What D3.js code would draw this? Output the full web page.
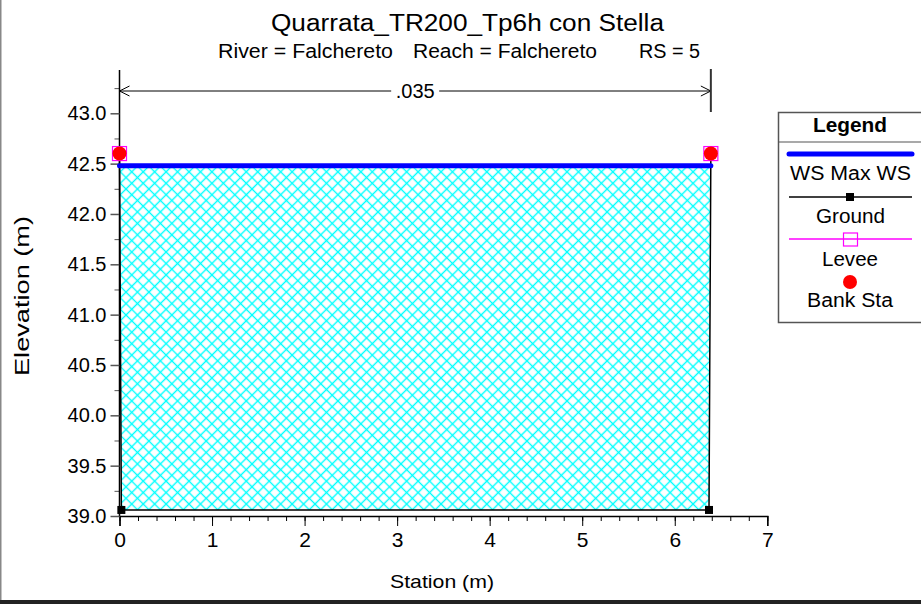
<!DOCTYPE html>
<html>
<head>
<meta charset="utf-8">
<script src="https://cdn.jsdelivr.net/npm/d3@7"></script>
<style>
  html, body { margin: 0; padding: 0; background: #fff; }
  svg { display: block; }
  text { font-family: "Liberation Sans", Arial, Helvetica, sans-serif; fill: #000; }
</style>
</head>
<body>
<script>
// ---------- DATA ----------
const titleText = "Quarrata_TR200_Tp6h con Stella";
const subtitleParts = ["River = Falchereto", "Reach = Falchereto", "RS = 5"];
const xLabel = "Station (m)";
const yLabel = "Elevation (m)";

const groundStation = [0, 0.02, 6.37, 6.39];
const groundElev    = [42.60, 39.06, 39.06, 42.60];

const leveeStation = [0, 6.39];
const leveeElev    = [42.60, 42.60];

const bankStation = [0, 6.39];
const bankElev    = [42.60, 42.60];

const wsMaxElev = 42.48;

const manningStations = [0, 6.39];
const manningValues   = [".035"];

const xTicks = [0, 1, 2, 3, 4, 5, 6, 7];
const yTicks = [39.0, 39.5, 40.0, 40.5, 41.0, 41.5, 42.0, 42.5, 43.0];

const legendItems = ["WS Max WS", "Ground", "Levee", "Bank Sta"];

// ---------- LAYOUT ----------
const W = 921, H = 604;
const svg = d3.select("body").append("svg").attr("width", W).attr("height", H);

const x = d3.scaleLinear().domain([0, 7]).range([119.5, 767.3]);
const y = d3.scaleLinear().domain([39, 43.43]).range([516, 70]);

// hatch pattern
const defs = svg.append("defs");
const pat = defs.append("pattern")
  .attr("id", "hatch").attr("patternUnits", "userSpaceOnUse")
  .attr("width", 8.1).attr("height", 8.1)
  .attr("patternTransform", "rotate(45)");
pat.append("path").attr("d", "M4.05,0 V8.1 M0,4.05 H8.1")
  .attr("stroke", "#00ffff").attr("stroke-width", 1.4).attr("fill", "none");

function txt(parent, px, py, s, o = {}) {
  const t = parent.append("text").attr("x", px).attr("y", py)
    .attr("font-size", o.size || 18)
    .attr("text-anchor", o.anchor || "middle")
    .attr("font-weight", o.weight || "normal")
    .text(s);
  if (o.len) t.attr("textLength", o.len).attr("lengthAdjust", "spacingAndGlyphs");
  return t;
}

// border
svg.append("line").attr("x1", 0.75).attr("x2", 0.75).attr("y1", 0).attr("y2", H)
  .attr("stroke", "#888").attr("stroke-width", 1.5);
svg.append("rect").attr("x", 0).attr("y", 600).attr("width", W).attr("height", 4).attr("fill", "#222");

// titles
txt(svg, 271, 31, titleText, { size: 23, anchor: "start", len: 393 });
txt(svg, 218, 58, subtitleParts[0], { size: 20, anchor: "start", len: 175 });
txt(svg, 413, 58, subtitleParts[1], { size: 20, anchor: "start", len: 184 });
txt(svg, 639, 58, subtitleParts[2], { size: 20, anchor: "start", len: 61 });

// ---------- water fill ----------
const pts = groundStation.map((s, i) => [s, groundElev[i]]);
function crossAt(a, b, e) {
  const t = (e - a[1]) / (b[1] - a[1]);
  return [a[0] + t * (b[0] - a[0]), e];
}
const leftX = crossAt(pts[0], pts[1], wsMaxElev);
const rightX = crossAt(pts[pts.length - 2], pts[pts.length - 1], wsMaxElev);
const waterPoly = [leftX, ...pts.slice(1, pts.length - 1), rightX];
svg.append("path")
  .attr("d", d3.line().x(d => x(d[0])).y(d => y(d[1]))(waterPoly) + "Z")
  .attr("fill", "url(#hatch)").attr("stroke", "none");

// ---------- axes ----------
const gx = svg.append("g").attr("transform", `translate(0,${y(39)})`);
gx.call(d3.axisBottom(x).tickValues(d3.range(0, 7.001, 0.2)).tickSize(5).tickFormat(""));
gx.call(g => g.selectAll(".tick line").attr("stroke", "#000"));
gx.call(g => g.select(".domain").remove());
const gx2 = svg.append("g").attr("transform", `translate(0,${y(39)})`);
gx2.call(d3.axisBottom(x).tickValues(xTicks).tickSize(10).tickPadding(6).tickFormat(d3.format("d")));
gx2.call(g => g.select(".domain").attr("stroke", "#000").attr("stroke-width", 1.5));
gx2.selectAll(".tick text").attr("font-size", 21).attr("font-family", "Liberation Sans, Arial, sans-serif").attr("fill", "#000");
gx2.selectAll(".tick line").attr("stroke", "#000");

const gy = svg.append("g").attr("transform", `translate(${x(0)},0)`);
gy.call(d3.axisLeft(y).tickValues(d3.range(39.25, 43.3, 0.5)).tickSize(5).tickFormat(""));
gy.call(g => g.select(".domain").remove());
gy.selectAll(".tick line").attr("stroke", "#555");
const gy2 = svg.append("g").attr("transform", `translate(${x(0)},0)`);
gy2.call(d3.axisLeft(y).tickValues(yTicks).tickSize(9).tickPadding(4).tickFormat(d3.format(".1f")));
gy2.call(g => g.select(".domain").attr("d", `M0,${y(39)}V${y(43.43)}`).attr("stroke", "#000").attr("stroke-width", 1.5));
gy2.selectAll(".tick line").attr("stroke", "#555").attr("stroke-width", 1.5);
gy2.selectAll(".tick text").attr("font-size", 20).attr("font-family", "Liberation Sans, Arial, sans-serif").attr("fill", "#000");

// axis titles
txt(svg, 442, 588, xLabel, { size: 19, len: 104 });
txt(svg, 0, 0, yLabel, { size: 20, len: 160 })
  .attr("transform", "translate(29,296) rotate(-90)");

// ---------- Manning's n dimension ----------
const my = 91;
const mx0 = x(manningStations[0]), mx1 = x(manningStations[1]);
svg.append("line").attr("x1", mx0).attr("x2", mx1).attr("y1", my).attr("y2", my)
  .attr("stroke", "#000").attr("stroke-width", 1);
svg.append("path").attr("d", `M${mx0 + 10},${my - 5} L${mx0},${my} L${mx0 + 10},${my + 5}`)
  .attr("fill", "none").attr("stroke", "#000").attr("stroke-width", 1);
svg.append("path").attr("d", `M${mx1 - 10},${my - 5} L${mx1},${my} L${mx1 - 10},${my + 5}`)
  .attr("fill", "none").attr("stroke", "#000").attr("stroke-width", 1);
svg.append("line").attr("x1", mx1).attr("x2", mx1).attr("y1", 69).attr("y2", 112)
  .attr("stroke", "#333").attr("stroke-width", 2);
const mcx = (mx0 + mx1) / 2;
svg.append("rect").attr("x", mcx - 24).attr("y", my - 10).attr("width", 48).attr("height", 20).attr("fill", "#fff");
txt(svg, mcx, my + 7, manningValues[0], { size: 20 });

// ---------- ground line ----------
svg.append("path")
  .attr("d", d3.line().x(d => x(d[0])).y(d => y(d[1]))(pts))
  .attr("fill", "none").attr("stroke", "#000").attr("stroke-width", 1.5);

// ---------- WS line ----------
svg.append("line")
  .attr("x1", x(0)).attr("x2", x(groundStation[groundStation.length - 1]))
  .attr("y1", y(wsMaxElev)).attr("y2", y(wsMaxElev))
  .attr("stroke", "#0000ff").attr("stroke-width", 5).attr("stroke-linecap", "round");

// ground markers
svg.selectAll(".gm").data(pts).enter().append("rect")
  .attr("x", d => x(d[0]) - 4).attr("y", d => y(d[1]) - 4)
  .attr("width", 8).attr("height", 8).attr("fill", "#000");

// levee markers
svg.selectAll(".lm").data(leveeStation.map((s, i) => [s, leveeElev[i]])).enter().append("rect")
  .attr("x", d => x(d[0]) - 7).attr("y", d => y(d[1]) - 7)
  .attr("width", 14).attr("height", 14).attr("fill", "none")
  .attr("stroke", "#ff00ff").attr("stroke-width", 1.2);

// bank station markers
svg.selectAll(".bm").data(bankStation.map((s, i) => [s, bankElev[i]])).enter().append("circle")
  .attr("cx", d => x(d[0])).attr("cy", d => y(d[1])).attr("r", 7).attr("fill", "#ff0000");

// ---------- legend ----------
const lg = svg.append("g");
lg.append("rect").attr("x", 778.5).attr("y", 112.5).attr("width", 145).attr("height", 210)
  .attr("fill", "#fff").attr("stroke", "#555").attr("stroke-width", 1.5);
lg.append("line").attr("x1", 778.5).attr("x2", 921).attr("y1", 142).attr("y2", 142)
  .attr("stroke", "#555").attr("stroke-width", 1.2);
txt(lg, 850, 132, "Legend", { size: 20, weight: "bold", len: 74 });

lg.append("line").attr("x1", 789).attr("x2", 912).attr("y1", 154).attr("y2", 154)
  .attr("stroke", "#0000ff").attr("stroke-width", 5).attr("stroke-linecap", "round");
txt(lg, 850.5, 180, legendItems[0], { size: 20, len: 121 });

lg.append("line").attr("x1", 789).attr("x2", 912).attr("y1", 197).attr("y2", 197)
  .attr("stroke", "#000").attr("stroke-width", 1.3);
lg.append("rect").attr("x", 846).attr("y", 193).attr("width", 8).attr("height", 8).attr("fill", "#000");
txt(lg, 850.5, 223, legendItems[1], { size: 20, len: 69 });

lg.append("line").attr("x1", 789).attr("x2", 912).attr("y1", 239).attr("y2", 239)
  .attr("stroke", "#ff00ff").attr("stroke-width", 1.5);
lg.append("rect").attr("x", 843.5).attr("y", 233).attr("width", 14).attr("height", 13)
  .attr("fill", "none").attr("stroke", "#ff00ff").attr("stroke-width", 1.2);
txt(lg, 850, 265.5, legendItems[2], { size: 20, len: 56 });

lg.append("circle").attr("cx", 850).attr("cy", 282).attr("r", 7).attr("fill", "#ff0000");
txt(lg, 850, 307, legendItems[3], { size: 20, len: 86 });
</script>
</body>
</html>
